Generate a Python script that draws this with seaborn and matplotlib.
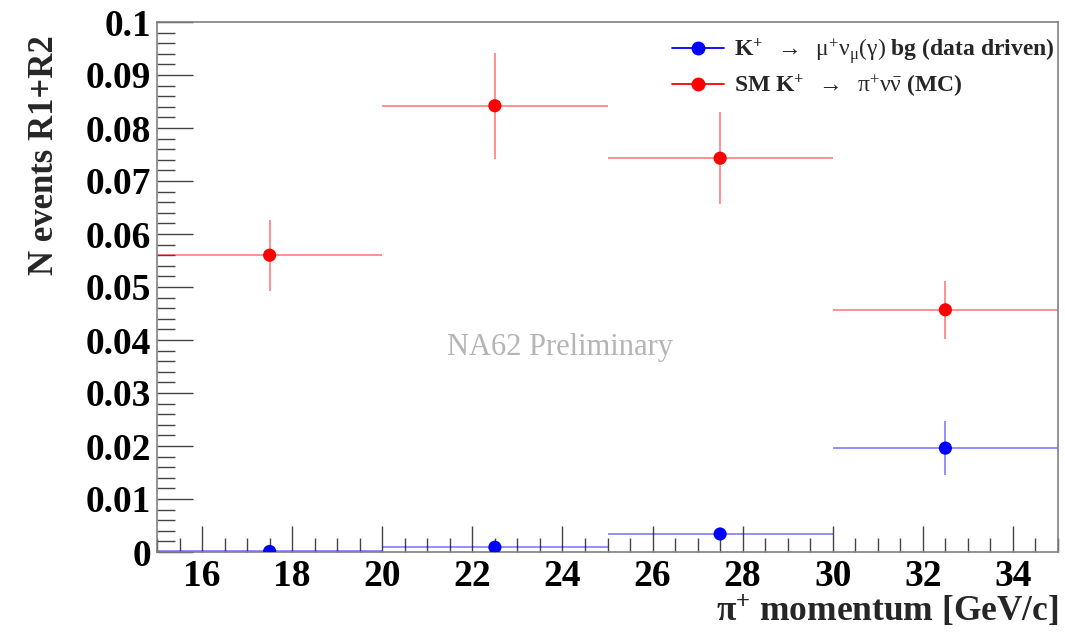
import numpy as np
import pandas as pd
import matplotlib
matplotlib.use("Agg")
import matplotlib.pyplot as plt
from matplotlib.ticker import MultipleLocator, FixedLocator, FixedFormatter
from matplotlib.lines import Line2D
import seaborn as sns

# ---- data ----
bin_centers = [17.5, 22.5, 27.5, 32.5]
bin_halfwidth = [2.5, 2.5, 2.5, 2.5]
mu_values = [0.0001, 0.0009, 0.0034, 0.0196]
mu_errors = [0.0001, 0.0003, 0.0012, 0.0051]
pnn_values = [0.0560, 0.0842, 0.0743, 0.0457]
pnn_errors = [0.0067, 0.0100, 0.0087, 0.0055]
y_ticks = [0.0, 0.01, 0.02, 0.03, 0.04, 0.05, 0.06, 0.07, 0.08, 0.09, 0.1]
y_tick_labels = ["0", "0.01", "0.02", "0.03", "0.04", "0.05", "0.06", "0.07", "0.08", "0.09", "0.1"]
x_ticks = [16, 18, 20, 22, 24, 26, 28, 30, 32, 34]
x_tick_labels = ["16", "18", "20", "22", "24", "26", "28", "30", "32", "34"]
label_mu = r"$\mathbf{K^{+}}\ \ \rightarrow\ \ \mathrm{\mu}^{+}\mathrm{\nu}_{\mathrm{\mu}}(\mathrm{\gamma})$ bg (data driven)"
label_pnn = r"SM $\mathbf{K^{+}}\ \ \rightarrow\ \ \mathrm{\pi}^{+}\mathrm{\nu}\bar{\mathrm{\nu}}$ (MC)"

sns.set_theme(style="white")
plt.rcParams["font.family"] = ["Liberation Serif", "DejaVu Serif"]
plt.rcParams["mathtext.fontset"] = "custom"
plt.rcParams["mathtext.rm"] = "Liberation Serif"
plt.rcParams["mathtext.bf"] = "Liberation Serif:bold"
plt.rcParams["mathtext.it"] = "Liberation Serif:italic"

df = pd.DataFrame({
    "x": bin_centers * 2,
    "y": mu_values + pnn_values,
    "series": [label_mu] * 4 + [label_pnn] * 4,
})

fig = plt.figure(figsize=(10.65, 6.32), dpi=100)
ax = fig.add_axes([157 / 1065, 1 - 552 / 632, (1058 - 157) / 1065, (552 - 22) / 632])

colors = {label_mu: "#0000ff", label_pnn: "#ff0000"}
for vals, errs, lab in [(mu_values, mu_errors, label_mu), (pnn_values, pnn_errors, label_pnn)]:
    c = colors[lab]
    ax.errorbar(bin_centers, vals, xerr=bin_halfwidth, yerr=errs, fmt="none",
                ecolor=c, elinewidth=1.1, alpha=0.55, capsize=0, zorder=2)

sns.scatterplot(data=df, x="x", y="y", hue="series", palette=colors, s=90,
                edgecolor="none", legend=False, ax=ax, zorder=3)

handles = [Line2D([0], [0], color=colors[l], marker="o", markersize=9, lw=1.3)
           for l in [label_mu, label_pnn]]
leg = ax.legend(handles, [label_mu, label_pnn], loc="upper right",
                bbox_to_anchor=(1.02, 1.014), frameon=False, handlelength=2.2,
                handletextpad=0.45, labelspacing=0.3,
                prop={"family": "Liberation Serif", "weight": "bold", "size": 17})

ax.set_xlim(15, 35)
ax.set_ylim(0, 0.1)
ax.xaxis.set_major_locator(FixedLocator(x_ticks))
ax.xaxis.set_major_formatter(FixedFormatter(x_tick_labels))
ax.xaxis.set_minor_locator(MultipleLocator(0.5))
ax.yaxis.set_major_locator(FixedLocator(y_ticks))
ax.yaxis.set_major_formatter(FixedFormatter(y_tick_labels))
ax.yaxis.set_minor_locator(MultipleLocator(0.002))

ax.tick_params(axis="both", which="both", direction="in", top=False, right=False,
               bottom=True, left=True, colors="#444444", labelcolor="black")
ax.tick_params(axis="x", which="major", length=19, width=1, pad=5, labelsize=27)
ax.tick_params(axis="x", which="minor", length=10, width=1)
ax.tick_params(axis="y", which="major", length=26, width=1, pad=4, labelsize=27)
ax.tick_params(axis="y", which="minor", length=13, width=1)
for lab in ax.get_xticklabels() + ax.get_yticklabels():
    lab.set_fontweight("bold")
    lab.set_family("Liberation Serif")

for sp in ax.spines.values():
    sp.set_color("#808080")
    sp.set_linewidth(1.2)
    sp.set_visible(True)

ax.set_xlabel(r"$\mathbf{\pi^{+}}$ momentum [GeV/c]", fontsize=25.5, fontweight="bold",
              family="Liberation Serif", loc="right", labelpad=0)
ax.set_ylabel("N events R1+R2", fontsize=25, fontweight="bold",
              family="Liberation Serif")
ax.yaxis.set_label_coords(-0.107, 0.749)

ax.text(23.95, 0.0385, "NA62 Preliminary", color="#b5b5b5", fontsize=22,
        family="Liberation Serif", ha="center", va="center")

ax.grid(False)
fig.savefig("out.png", dpi=100)
